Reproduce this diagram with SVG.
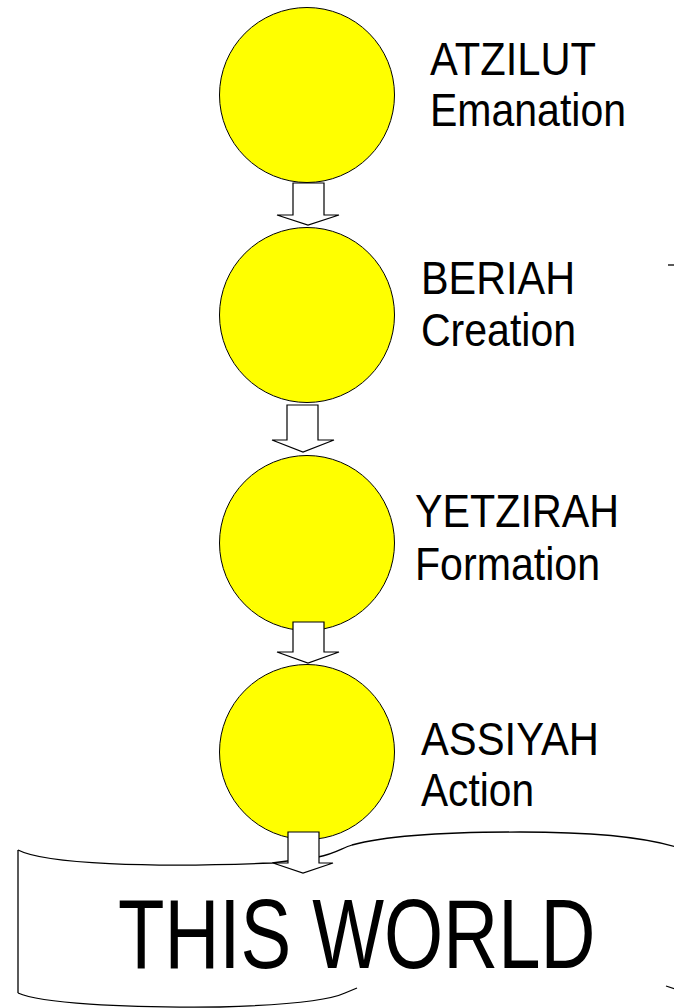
<svg xmlns="http://www.w3.org/2000/svg" width="674" height="1008" viewBox="0 0 674 1008">
<style>
.world{fill:#ffffff;stroke:#000000;stroke-width:1.3}
.edge{fill:none;stroke:#000000;stroke-width:1.3}
.sphere{fill:#ffff00;stroke:#000000;stroke-width:1}
.lbl{font-family:"Liberation Sans",Arial,sans-serif;font-size:46px;fill:#000000}
.big{font-family:"Liberation Sans",Arial,sans-serif;font-size:98px;fill:#000000}
.arrow{fill:#ffffff;stroke:#000000;stroke-width:1.2;stroke-linejoin:miter}
</style>
<rect width="674" height="1008" fill="#ffffff"/>
<g id="this-world">
<path class="edge" d="M18,850 C45,864 150,868 272,863 L318,857 C335,854 342,848 352,845 C385,836 450,832 520,832 C590,832 640,836 676,847"/>
<path class="edge" d="M18,850 L18,993"/>
<path class="edge" d="M18,993 C40,1003 120,1008 220,1007 C290,1005 330,1000 345,993 L357,988"/>
<path class="edge" d="M666,986 L675,989"/>
<text class="big" transform="translate(118,968) scale(0.776,1)" x="0" y="0">THIS WORLD</text>
</g>
<g id="atzilut">
<circle class="sphere" cx="307" cy="95" r="87.5"/>
<text class="lbl" x="430" y="75" textLength="166" lengthAdjust="spacingAndGlyphs">ATZILUT</text>
<text class="lbl" x="430" y="126" textLength="196" lengthAdjust="spacingAndGlyphs">Emanation</text>
</g>
<g id="beriah">
<circle class="sphere" cx="307" cy="315" r="87.5"/>
<text class="lbl" x="421" y="294" textLength="154" lengthAdjust="spacingAndGlyphs">BERIAH</text>
<text class="lbl" x="421" y="346" textLength="155" lengthAdjust="spacingAndGlyphs">Creation</text>
</g>
<g id="yetzirah">
<circle class="sphere" cx="307" cy="543" r="87.5"/>
<text class="lbl" x="415" y="527" textLength="204" lengthAdjust="spacingAndGlyphs">YETZIRAH</text>
<text class="lbl" x="415" y="580" textLength="185" lengthAdjust="spacingAndGlyphs">Formation</text>
</g>
<g id="assiyah">
<circle class="sphere" cx="307" cy="752" r="87.5"/>
<text class="lbl" x="421" y="755" textLength="178" lengthAdjust="spacingAndGlyphs">ASSIYAH</text>
<text class="lbl" x="421" y="806" textLength="113" lengthAdjust="spacingAndGlyphs">Action</text>
</g>
<g id="connectors">
<polygon class="arrow" points="293,183 324,183 324,215 339,215 308,225 277,215 293,215"/>
<polygon class="arrow" points="287,405 318,405 318,440 334,440 303,452 272,440 287,440"/>
<polygon class="arrow" points="293,622 324,622 324,652 339,652 308,663 277,652 293,652"/>
<polygon class="arrow" points="288,832 319,832 319,863 333,863 303,873 273,863 288,863"/>
</g>
<path class="edge" d="M668,265 L674,265"/>
</svg>
